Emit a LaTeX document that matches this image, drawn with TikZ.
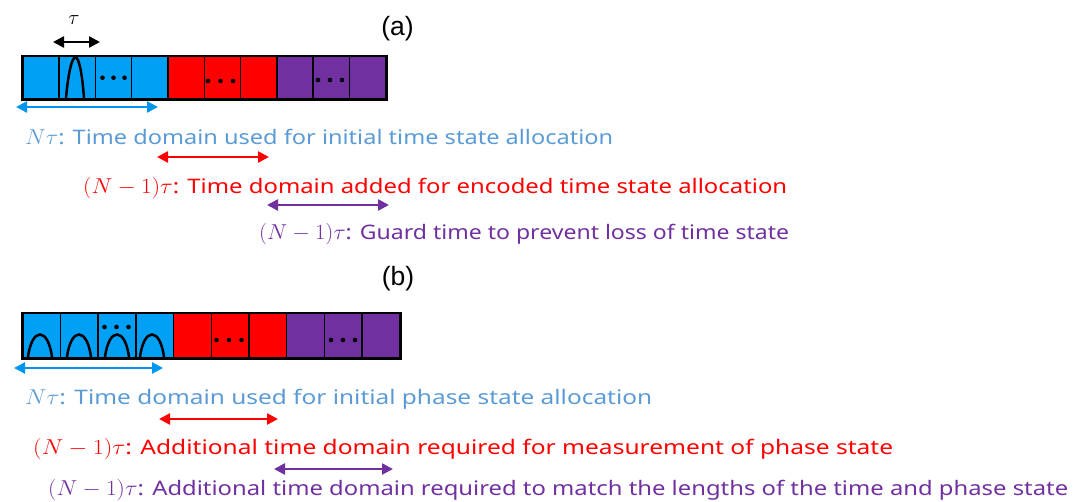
\documentclass[tikz,border=0pt]{standalone}
\usepackage{fontspec}
\usepackage{graphicx}
\setmainfont{Noto Sans}[FakeStretch=1.18]
\newfontfamily\labfont{Liberation Sans}
\usetikzlibrary{arrows.meta,calc}
\definecolor{cblue}{RGB}{0,160,245}
\definecolor{ablue}{RGB}{0,150,240}
\definecolor{tblue}{RGB}{91,155,213}
\definecolor{cred}{RGB}{255,0,0}
\definecolor{cpurple}{RGB}{112,48,160}
\newcommand{\mth}[1]{\scalebox{1.12}[1.04]{$#1$}}
\newcommand{\fitw}[2]{\resizebox{#1}{\height}{#2}}
\begin{document}
\begin{tikzpicture}[x=1pt,y=-1pt,
  cellA/.style={draw=black, line width=1.5pt, minimum width=36.3pt, minimum height=42pt, inner sep=0pt, anchor=north west},
  cellB/.style={draw=black, line width=1.5pt, minimum width=37.7pt, minimum height=44pt, inner sep=0pt, anchor=north west},
  frame/.style={draw=black, line width=2.5pt},
  pulse/.style={draw=black, line width=2.5pt},
  dimarrow/.style={line width=2.4pt, {Triangle[length=11pt,width=11pt]}-{Triangle[length=11pt,width=11pt]}},
  desc/.style={anchor=base west, inner sep=0pt, font=\fontsize{20}{24}\selectfont},
  lab/.style={font=\labfont\fontsize{26.5}{30}\selectfont, inner sep=0pt},
  dot/.style={fill=black, circle, inner sep=0pt, minimum size=4.6pt}
]
\useasboundingbox (0,0) rectangle (1081,502);
% ---------- (a) ----------
\node[lab] (la) at (397.5,29) {(a)};
\foreach \i/\c in {0/cblue,1/cblue,2/cblue,3/cblue,4/cred,5/cred,6/cred,7/cpurple,8/cpurple,9/cpurple}{
  \node[cellA, fill=\c] (a\i) at ({22+36.3*\i},56) {};
}
\draw[frame] (a0.north west) rectangle (a9.south east);
\draw[pulse] (66,98) .. controls (71,44) and (80,44) .. (84,98);
\foreach \k in {-1,0,1}{
  \node[dot] at ($(a2.center)+(11*\k,0)$) {};
}
\node[dot] at (208,81) {};
\node[dot] at (220.5,81) {};
\node[dot] at (233,81) {};
\node[dot] at (318,80) {};
\node[dot] at (330,80) {};
\node[dot] at (342,80) {};
\node[font=\fontsize{20}{24}\selectfont, inner sep=0pt] (tau) at (74,20) {$\tau$};
\coordinate (taul) at (53,42); \coordinate (taur) at (100,42);
\draw[dimarrow, black] (taul) -- (taur);
\coordinate (ab1) at (16,107); \coordinate (ab2) at (158,107);
\draw[dimarrow, ablue] (ab1) -- (ab2);
\node[desc, text=tblue] (ta1) at (25,145) {\fitw{588pt}{\mth{N\tau}: Time domain used for initial time state allocation}};
\coordinate (ar1) at (157,157); \coordinate (ar2) at (269,157);
\draw[dimarrow, cred] (ar1) -- (ar2);
\node[desc, text=cred] (ta2) at (83,194) {\fitw{704pt}{\mth{(N-1)\tau}: Time domain added for encoded time state allocation}};
\coordinate (ap1) at (267,205); \coordinate (ap2) at (389,205);
\draw[dimarrow, cpurple] (ap1) -- (ap2);
\node[desc, text=cpurple] (ta3) at (259,240) {\fitw{530pt}{\mth{(N-1)\tau}: Guard time to prevent loss of time state}};
% ---------- (b) ----------
\node[lab] (lb) at (398,279) {(b)};
\foreach \i/\c in {0/cblue,1/cblue,2/cblue,3/cblue,4/cred,5/cred,6/cred,7/cpurple,8/cpurple,9/cpurple}{
  \node[cellB, fill=\c] (b\i) at ({22+37.7*\i},313) {};
}
\draw[frame] (b0.north west) rectangle (b9.south east);
\foreach \s in {28,67,105,140}{
  \draw[pulse] (\s,357) .. controls (\s+4,327) and (\s+20,327) .. (\s+24,357);
}
\node[dot] at (104.5,327) {};
\node[dot] at (116.5,327) {};
\node[dot] at (128.5,327) {};
\node[dot] at (216.5,340) {};
\node[dot] at (229,340) {};
\node[dot] at (241.5,340) {};
\node[dot] at (331,340) {};
\node[dot] at (343,340) {};
\node[dot] at (355,340) {};
\coordinate (bb1) at (14,368); \coordinate (bb2) at (163,368);
\draw[dimarrow, ablue] (bb1) -- (bb2);
\node[desc, text=tblue] (tb1) at (25,404) {\fitw{627pt}{\mth{N\tau}: Time domain used for initial phase state allocation}};
\coordinate (br1) at (159,419); \coordinate (br2) at (278,419);
\draw[dimarrow, cred] (br1) -- (br2);
\node[desc, text=cred] (tb2) at (33,454) {\fitw{860pt}{\mth{(N-1)\tau}: Additional time domain required for measurement of phase state}};
\coordinate (bp1) at (274,469); \coordinate (bp2) at (393,469);
\draw[dimarrow, cpurple] (bp1) -- (bp2);
\node[desc, text=cpurple] (tb3) at (48,495) {\fitw{1020pt}{\mth{(N-1)\tau}: Additional time domain required to match the lengths of the time and phase state}};
\end{tikzpicture}
\end{document}
